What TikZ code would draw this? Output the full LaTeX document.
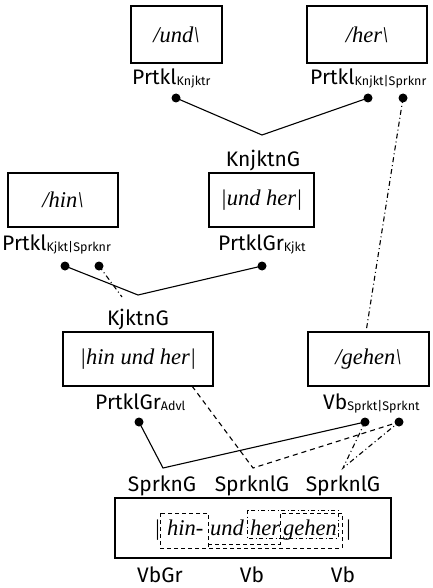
\documentclass[tikz,border=0pt]{standalone}
\usepackage{fontspec}
\setmainfont{Liberation Serif}
\setsansfont{Fira Sans}
\begin{document}
\begin{tikzpicture}[x=1pt,y=-1pt,
  wbox/.style={draw,line width=1.3pt,inner sep=0pt,font=\fontsize{22.5}{22.5}\selectfont\itshape},
  lab/.style={anchor=base,inner sep=0pt,font=\sffamily\fontsize{21}{21}\selectfont},
  labw/.style={lab,anchor=base west},
  wrd/.style={anchor=base west,inner sep=0pt,font=\fontsize{22.5}{22.5}\selectfont\itshape},
  dot/.style={circle,fill=black,inner sep=0pt,minimum size=9pt},
  link/.style={line width=1.1pt},
  dlink/.style={line width=1.1pt,dash pattern=on 5pt off 4pt},
  ddlink/.style={line width=1.1pt,dash pattern=on 5pt off 3pt on 1pt off 3pt},
  ibox/.style={line width=1pt,dash pattern=on 4pt off 3pt},
  iddbox/.style={line width=1pt,dash pattern=on 4pt off 2.5pt on 1pt off 2.5pt}]
\newcommand{\sub}[1]{\raisebox{-1pt}{\fontsize{12.5}{12.5}\selectfont #1}}
\useasboundingbox (0,0) rectangle (432,588);
% boxes
\node[wbox,minimum width=91pt,minimum height=57pt] (und) at (176.5,34.5) {/und\textbackslash};
\node[wbox,minimum width=120pt,minimum height=57pt] (her) at (367,34.5) {/her\textbackslash};
\node[wbox,minimum width=110pt,minimum height=54pt] (hin) at (63,200) {/hin\textbackslash};
\node[wbox,minimum width=105pt,minimum height=54pt] (undher) at (261.5,200) {|und her|};
\node[wbox,minimum width=150pt,minimum height=54pt] (hinundher) at (138,359) {|hin und her|};
\node[wbox,minimum width=121pt,minimum height=54pt] (gehen) at (368.5,359) {/gehen\textbackslash};
\node[draw,line width=1.3pt,minimum width=276pt,minimum height=60pt] (bottom) at (253,528) {};
% labels
\node[labw] (l1) at (132,85) {Prtkl\sub{Knjktr}};
\node[labw] (l2) at (310,85) {Prtkl\sub{Knjkt|Sprknr}};
\node[lab] (l3) at (263,167) {KnjktnG};
\node[labw] (l4) at (2,250) {Prtkl\sub{Kjkt|Sprknr}};
\node[labw] (l5) at (218,250) {PrtklGr\sub{Kjkt}};
\node[lab] (l6) at (138,325) {KjktnG};
\node[labw] (l7) at (95,409) {PrtklGr\sub{Advl}};
\node[labw] (l8) at (323,409) {Vb\sub{Sprkt|Sprknt}};
\node[lab] (l9) at (162,491) {SprknG};
\node[lab] (l10) at (252,491) {SprknlG};
\node[lab] (l11) at (343,491) {SprknlG};
\node[lab] (l12) at (160,582) {VbGr};
\node[lab] (l13) at (252,582) {Vb};
\node[lab] (l14) at (343,582) {Vb};
% dots
\node[dot] (d1) at (176,98) {};
\node[dot] (d2) at (368,98) {};
\node[dot] (d3) at (403,98) {};
\node[dot] (d4) at (65,266) {};
\node[dot] (d5) at (99,266) {};
\node[dot] (d6) at (262,266) {};
\node[dot] (d7) at (139,422) {};
\node[dot] (d8) at (365,422) {};
\node[dot] (d9) at (399,422) {};
% vertices
\coordinate (v1) at (262,135);
\coordinate (v2) at (138,295);
\coordinate (v2b) at (122,297);
\coordinate (v3) at (253,468);
\coordinate (v4) at (163,468);
\coordinate (v5) at (343,468);
\coordinate (gtop) at (366,332);
\coordinate (hb) at (192,386);
% connectors
\draw[link] (d1.center) -- (v1) -- (d2.center);
\draw[ddlink] (d3.center) -- (gtop);
\draw[link] (d4.center) -- (v2) -- (d6.center);
\draw[ddlink] (d5.center) -- (v2b);
\draw[dlink] (hb) -- (v3) -- (d9.center);
\draw[link] (d7.center) -- (v4) -- (d8.center);
\draw[ddlink] (d8.center) -- (v5) -- (d9.center);
% inner text
\node[wrd] (w0) at (154,535) {|};
\node[wrd] (w1) at (167,535) {hin-};
\node[wrd] (w2) at (210,535) {und};
\node[wrd] (w3) at (250,535) {her};
\node[wrd] (w4) at (283,535) {gehen};
\node[wrd] (w5) at (345,535) {|};
% inner dashed outlines
\draw[ibox] (160,513) rectangle (208,548);
\draw[ibox] (208,544) -- (280,544) -- (280,513) -- (342,513) -- (342,548) -- (160,548);
\draw[iddbox] (247,510) rectangle (338,538);
\end{tikzpicture}
\end{document}
